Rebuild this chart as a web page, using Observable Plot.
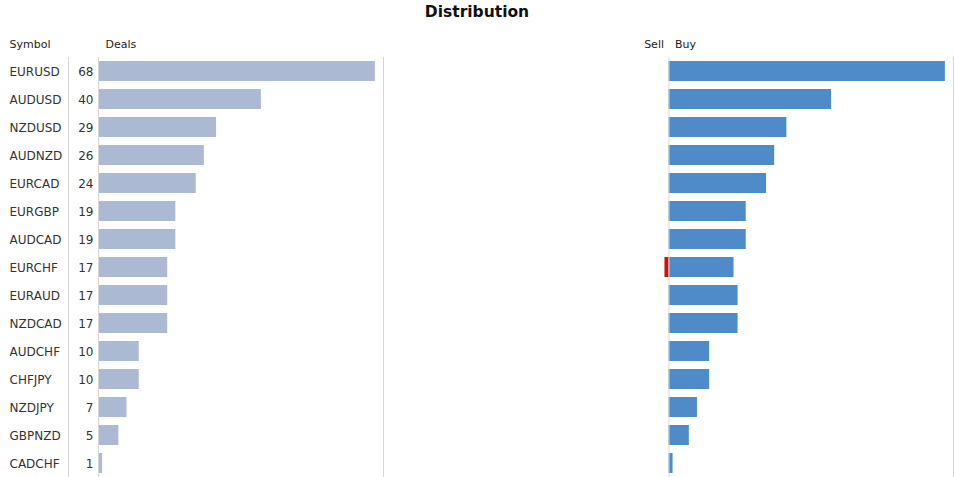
<!DOCTYPE html>
<html><head><meta charset="utf-8">
<script src="https://cdn.jsdelivr.net/npm/d3@7"></script>
<script src="https://cdn.jsdelivr.net/npm/@observablehq/plot@0.6"></script>
<style>
body{margin:0;background:#fff;font-family:"DejaVu Sans",sans-serif;}
#title{height:30px;text-align:center;font-weight:bold;font-size:15.5px;line-height:24px;color:#111;}
#row{display:flex;}
</style></head><body>
<div id="title">Distribution</div>
<div id="row"></div>
<script>
const symbols = ["EURUSD","AUDUSD","NZDUSD","AUDNZD","EURCAD","EURGBP","AUDCAD","EURCHF","EURAUD","NZDCAD","AUDCHF","CHFJPY","NZDJPY","GBPNZD","CADCHF"];
const deals = [68,40,29,26,24,19,19,17,17,17,10,10,7,5,1];
const sells = [0,0,0,0,0,0,0,1,0,0,0,0,0,0,0];
const buys = [68,40,29,26,24,19,19,16,17,17,10,10,7,5,1];
const headerSymbol = "Symbol", headerDeals = "Deals", headerSell = "Sell", headerBuy = "Buy";
const axisMax = 70;

const data = symbols.map((s, i) => ({symbol: s, deals: deals[i], sell: sells[i], buy: buys[i]}));
const H = 447;
const grid = "#d6d6d6";
const yOpts = {domain: symbols, paddingInner: 0.286, paddingOuter: 0.143, axis: null};
const style = {fontFamily: "DejaVu Sans", background: "#fff", color: "#333"};

const left = Plot.plot({
  width: 384, height: H, marginLeft: 98, marginRight: 1, marginTop: 27, marginBottom: 0,
  x: {domain: [0, axisMax], axis: null}, y: yOpts, style,
  marks: [
    Plot.barX(data, {x1: 0, x2: "deals", y: "symbol", fill: "#abb9d3"}),
    Plot.ruleX([0, axisMax], {stroke: grid}),
    Plot.ruleX([0], {stroke: grid, dx: -30}),
    Plot.text(data, {y: "symbol", text: "symbol", frameAnchor: "left", dx: -89, dy: 0.5, textAnchor: "start", fontSize: 12, fill: "#333"}),
    Plot.text(data, {y: "symbol", text: d => String(d.deals), frameAnchor: "left", dx: -5, dy: 0.5, textAnchor: "end", fontSize: 12, fill: "#333"}),
    Plot.text([headerSymbol], {text: d => d, frameAnchor: "top-left", dx: -89, dy: -17, textAnchor: "start", fontSize: 11, fill: "#222"}),
    Plot.text([headerDeals], {text: d => d, frameAnchor: "top-left", dx: 7, dy: -17, textAnchor: "start", fontSize: 11, fill: "#222"})
  ]
});

const right = Plot.plot({
  width: 570, height: H, marginLeft: 0, marginRight: 1, marginTop: 27, marginBottom: 0,
  x: {domain: [-axisMax, axisMax], axis: null}, y: yOpts, style,
  marks: [
    Plot.barX(data, {x1: 0, x2: "buy", y: "symbol", fill: "#4f8bc9"}),
    Plot.barX(data.filter(d => d.sell > 0), {x1: 0, x2: d => -d.sell, y: "symbol", fill: "#c4170c"}),
    Plot.ruleX([0, axisMax], {stroke: grid}),
    Plot.text([headerSell], {text: d => d, frameAnchor: "top", dx: -5, dy: -17, textAnchor: "end", fontSize: 11, fill: "#222"}),
    Plot.text([headerBuy], {text: d => d, frameAnchor: "top", dx: 6, dy: -17, textAnchor: "start", fontSize: 11, fill: "#222"})
  ]
});

const row = document.getElementById("row");
row.appendChild(left);
row.appendChild(right);
</script>
</body></html>
